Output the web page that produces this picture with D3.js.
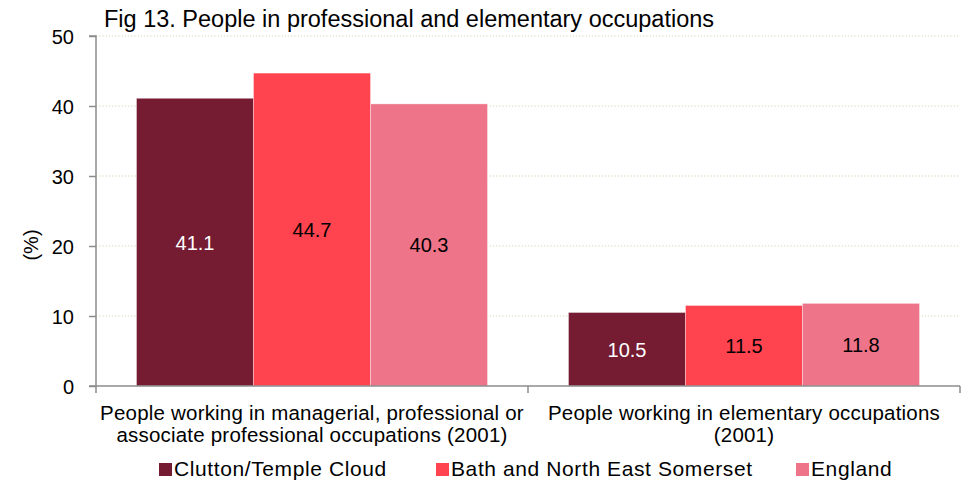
<!DOCTYPE html>
<html><head><meta charset="utf-8">
<script src="https://cdn.jsdelivr.net/npm/d3@7"></script>
<style>body{margin:0;background:#fff}svg{display:block;font-family:"Liberation Sans",Arial,sans-serif}</style>
</head><body><svg id="c" width="970" height="481"></svg>
<script>
const categories = [
  ["People working in managerial, professional or", "associate professional occupations (2001)"],
  ["People working in elementary occupations", "(2001)"]
];
const seriesNames = ["Clutton/Temple Cloud", "Bath and North East Somerset", "England"];
const clutton = [41.1, 10.5];
const bathNES = [44.7, 11.5];
const england = [40.3, 11.8];
const yTicks = [0, 10, 20, 30, 40, 50];
const colors = ["#751c33", "#ff444f", "#ee7489"];
const labelColors = ["#ffffff", "#000000", "#000000"];
const series = [clutton, bathNES, england];

const svg = d3.select("#c");
const L = 96, R = 960, T = 36, B = 386;
const x0 = d3.scaleBand().domain(d3.range(categories.length)).range([L, R]).paddingInner(0).paddingOuter(0);
const inner = 351 / 432;
const x1 = d3.scaleBand().domain(d3.range(series.length)).range([0, x0.bandwidth() * inner]);
const y = d3.scaleLinear().domain([0, 50]).range([B, T]);

// gridlines
svg.append("g").selectAll("line").data(yTicks.filter(t => t > 0)).join("line")
  .attr("x1", L).attr("x2", R - 2).attr("y1", d => y(d)).attr("y2", d => y(d))
  .attr("stroke", "#d4d3b0").attr("stroke-width", 1.2).attr("stroke-dasharray", "1.2,2");

// bars
const off = x0.bandwidth() * (1 - inner) / 2;
series.forEach((s, si) => {
  const g = svg.append("g");
  g.selectAll("rect").data(s).join("rect")
    .attr("x", (d, i) => x0(i) + off + x1(si))
    .attr("y", d => y(d))
    .attr("width", x1.bandwidth())
    .attr("height", d => B - y(d))
    .attr("fill", colors[si])
    .attr("stroke", "rgba(255,255,255,0.35)").attr("stroke-width", 1);
  g.selectAll("text").data(s).join("text")
    .attr("x", (d, i) => x0(i) + off + x1(si) + x1.bandwidth() / 2)
    .attr("y", d => (y(d) + B) / 2 + 7.5)
    .attr("text-anchor", "middle").attr("font-size", 20)
    .attr("fill", labelColors[si]).text(d => d.toFixed(1));
});

// y axis
const yAxis = d3.axisLeft(y).tickValues(yTicks).tickSize(7).tickPadding(15).tickFormat(d3.format("d"));
const ya = svg.append("g").attr("transform", `translate(${L},0)`).call(yAxis);
ya.select(".domain").attr("stroke", "#8c8c8c").attr("stroke-width", 1.5).attr("d", `M-7,${T}H0V${B}H-7`);
ya.selectAll(".tick line").attr("stroke", "#8c8c8c").attr("stroke-width", 1.5);
ya.selectAll(".tick text").attr("font-size", 20).attr("fill", "#000").attr("dy", "0.36em").attr("font-family", "Liberation Sans, Arial, sans-serif");

// x axis
const xa = svg.append("g").attr("transform", `translate(0,${B})`);
xa.append("line").attr("x1", L).attr("x2", R).attr("y1", 0).attr("y2", 0).attr("stroke", "#8c8c8c").attr("stroke-width", 1.5);
xa.selectAll("line.t").data([L, x0(1), R]).join("line").attr("class", "t")
  .attr("x1", d => d).attr("x2", d => d).attr("y1", 0).attr("y2", 7).attr("stroke", "#8c8c8c").attr("stroke-width", 1.5);
categories.forEach((c, i) => {
  c.forEach((line, k) => svg.append("text").attr("text-anchor", "middle").attr("font-size", 20.5)
    .attr("letter-spacing", 0.2).attr("fill", "#000")
    .attr("x", x0(i) + x0.bandwidth() / 2).attr("y", 420 + k * 21.5).text(line));
});

// y label
svg.append("text").attr("transform", "translate(38,245) rotate(-90)").attr("text-anchor", "middle")
  .attr("font-size", 20).text("(%)");

// title
svg.append("text").attr("x", 104).attr("y", 27).attr("font-size", 23.5).text("Fig 13. People in professional and elementary occupations");

// legend
const legX = [159, 436, 796];
const lg = svg.append("g");
seriesNames.forEach((n, i) => {
  lg.append("rect").attr("x", legX[i]).attr("y", 463).attr("width", 13).attr("height", 13).attr("fill", colors[i]);
  lg.append("text").attr("x", legX[i] + 15).attr("y", 476).attr("font-size", 21).attr("letter-spacing", 0.6).text(n);
});
</script></body></html>
